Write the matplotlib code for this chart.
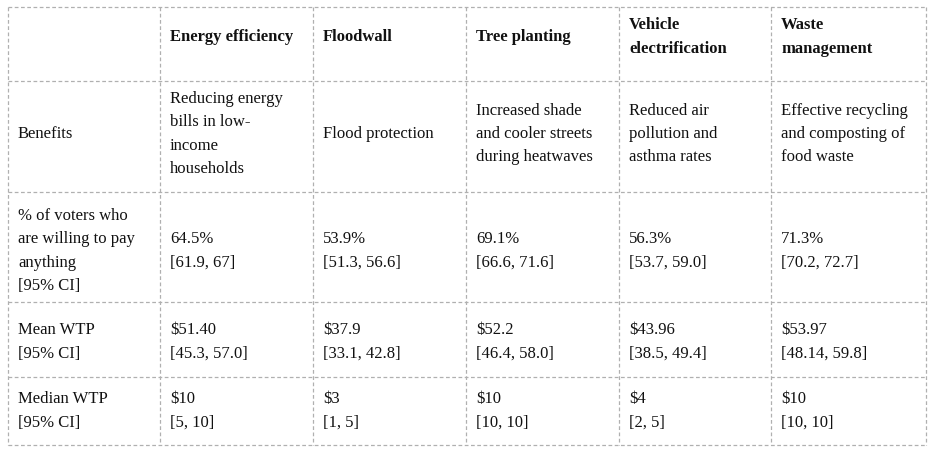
import matplotlib
matplotlib.use("Agg")
import matplotlib.pyplot as plt

columns = ["Energy efficiency", "Floodwall", "Tree planting", "Vehicle\nelectrification", "Waste\nmanagement"]
row_labels = ["Benefits", "% of voters who\nare willing to pay\nanything\n[95% CI]", "Mean WTP\n[95% CI]", "Median WTP\n[95% CI]"]
benefits = ["Reducing energy\nbills in low-\nincome\nhouseholds", "Flood protection",
            "Increased shade\nand cooler streets\nduring heatwaves", "Reduced air\npollution and\nasthma rates",
            "Effective recycling\nand composting of\nfood waste"]
pct = ["64.5%", "53.9%", "69.1%", "56.3%", "71.3%"]
pct_ci = ["[61.9, 67]", "[51.3, 56.6]", "[66.6, 71.6]", "[53.7, 59.0]", "[70.2, 72.7]"]
mean_wtp = ["$51.40", "$37.9", "$52.2", "$43.96", "$53.97"]
mean_ci = ["[45.3, 57.0]", "[33.1, 42.8]", "[46.4, 58.0]", "[38.5, 49.4]", "[48.14, 59.8]"]
median_wtp = ["$10", "$3", "$10", "$4", "$10"]
median_ci = ["[5, 10]", "[1, 5]", "[10, 10]", "[2, 5]", "[10, 10]"]

W, H = 936, 456
fig = plt.figure(figsize=(W/100, H/100), dpi=100)
ax = fig.add_axes([0, 0, 1, 1])
ax.set_xlim(0, W); ax.set_ylim(H, 0); ax.axis("off")

xs = [8, 160, 313, 466, 619, 771, 926]
ys = [8, 82, 193, 303, 378, 446]
lc = "#b0b0b0"
for y in ys:
    ax.plot([xs[0], xs[-1]], [y, y], color=lc, lw=0.9, ls=(0, (3, 2)))
for x in xs:
    ax.plot([x, x], [ys[0], ys[-1]], color=lc, lw=0.9, ls=(0, (3, 2)))

font = "Liberation Serif"
fs = 12
ls = 1.62
centers = [37, 134, 251, 342, 411]

def put(x, y, s, bold=False):
    ax.text(x, y, s, ha="left", va="center", fontsize=fs, family=font,
            fontweight="bold" if bold else "normal", linespacing=ls, color="#111111")

for i, c in enumerate(columns):
    put(xs[i+1] + 10, centers[0], c, bold=True)
for r, lab in enumerate(row_labels):
    put(xs[0] + 10, centers[r+1], lab)
rows = [benefits,
        [f"{a}\n{b}" for a, b in zip(pct, pct_ci)],
        [f"{a}\n{b}" for a, b in zip(mean_wtp, mean_ci)],
        [f"{a}\n{b}" for a, b in zip(median_wtp, median_ci)]]
for r, vals in enumerate(rows):
    for i, v in enumerate(vals):
        put(xs[i+1] + 10, centers[r+1], v)

fig.savefig("out.png", dpi=100, facecolor="white")
